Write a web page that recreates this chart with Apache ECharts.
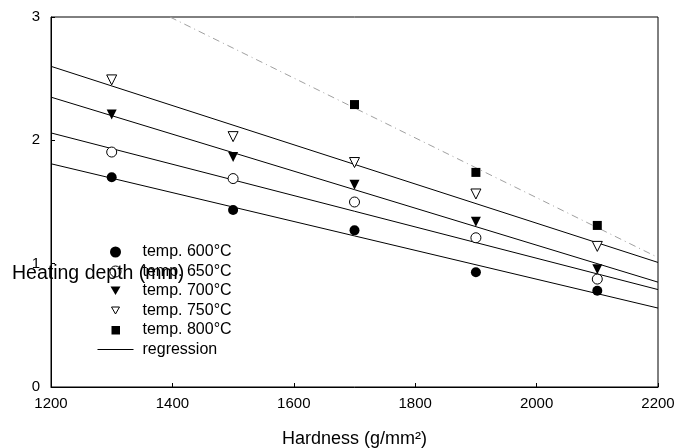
<!DOCTYPE html>
<html>
<head>
<meta charset="utf-8">
<script src="https://cdn.jsdelivr.net/npm/echarts@6/dist/echarts.min.js"></script>
<style>
  html, body { margin: 0; padding: 0; background: #fff; }
  #chart { width: 678px; height: 448px; }
</style>
</head>
<body>
<div id="chart"></div>
<script>
// hardness values (g/mm2) where the samples were measured
const hardness = [1300, 1500, 1700, 1900, 2100];
const hardness800 = [1700, 1900, 2100];

// heating depth (mm) per temperature
const depth600 = [1.70, 1.435, 1.27, 0.93, 0.78];
const depth650 = [1.905, 1.69, 1.50, 1.21, 0.875];
const depth700 = [2.21, 1.865, 1.64, 1.34, 0.955];
const depth750 = [2.49, 2.03, 1.82, 1.565, 1.14];
const depth800 = [2.29, 1.74, 1.31];

// regression lines, read at their end points
const regX = [1200, 2200];
const reg600 = [1.81, 0.64];
const reg650 = [2.06, 0.79];
const reg700 = [2.35, 0.85];
const reg750 = [2.60, 1.01];
const reg800X = [1396, 2200];
const reg800 = [3.0, 1.05];

const xTicks = [1200, 1400, 1600, 1800, 2000, 2200];
const yTicks = [0, 1, 2, 3];

const font = "'Liberation Sans', Arial, sans-serif";

const pairs = (xs, ys) => xs.map((x, i) => [x, ys[i]]);

// legend icons are drawn in a 36x11 box, the M points keep that box
const box = 'path://M0,0 M36,11 ';
const icons = {
  triDown: box + 'M13,1 L23,1 L18,9.5 Z',
  triDownHollow: box + 'M14,2 L22,2 L18,9 Z',
  square: box + 'M14,1.5 L22.5,1.5 L22.5,10 L14,10 Z',
  line: box + 'M0,5 L36,5 L36,6 L0,6 Z'
};

const chart = echarts.init(document.getElementById('chart'));

const scatter = (name, xs, ys, symbol, size, hollow, rotate) => ({
  name: name,
  type: 'scatter',
  data: pairs(xs, ys),
  symbol: symbol,
  symbolSize: size,
  symbolRotate: rotate || 0,
  itemStyle: hollow
    ? { color: '#fff', borderColor: '#000', borderWidth: 1, opacity: 1 }
    : { color: '#000', opacity: 1 },
  z: 5
});

const regLine = (name, xs, ys, style) => ({
  name: name,
  type: 'line',
  data: pairs(xs, ys),
  showSymbol: false,
  symbol: 'none',
  itemStyle: { color: style.color },
  lineStyle: style,
  silent: true,
  z: 3
});

const solid = { color: '#000', width: 1 };
const hollowStyle = { color: '#fff', borderColor: '#000', borderWidth: 1, opacity: 1 };

chart.setOption({
  animation: false,
  grid: {
    left: 51, right: 20, top: 17, bottom: 61,
    outerBoundsMode: 'none',
    show: true, borderColor: '#000', borderWidth: 1
  },
  title: {
    text: 'Heating depth (mm)',
    left: 7, top: 259,
    textStyle: { fontFamily: font, fontSize: 19.5, fontWeight: 'normal', color: '#000' }
  },
  legend: {
    orient: 'vertical',
    left: 92, top: 239,
    itemWidth: 36, itemHeight: 11, itemGap: 3.5,
    data: [
      { name: 'temp. 600°C', icon: 'circle', itemStyle: { color: '#000', opacity: 1 } },
      { name: 'temp. 650°C', icon: 'circle', itemStyle: hollowStyle },
      { name: 'temp. 700°C', icon: icons.triDown, itemStyle: { color: '#000', opacity: 1 } },
      { name: 'temp. 750°C', icon: icons.triDownHollow, itemStyle: hollowStyle },
      { name: 'temp. 800°C', icon: icons.square, itemStyle: { color: '#000', opacity: 1 } },
      { name: 'regression', icon: icons.line, itemStyle: { color: '#000', opacity: 1 } }
    ],
    textStyle: { fontFamily: font, fontSize: 16, lineHeight: 15.5, color: '#000', padding: [0, 0, 0, 4] }
  },
  xAxis: {
    type: 'value',
    min: 1200, max: 2200, interval: 200,
    name: 'Hardness (g/mm\u00b2)',
    nameLocation: 'middle', nameGap: 43,
    nameTextStyle: { fontFamily: font, fontSize: 18, color: '#000' },
    axisLine: { lineStyle: { color: '#000', width: 1 } },
    axisTick: { inside: true, length: 4, lineStyle: { color: '#000' } },
    axisLabel: { fontFamily: font, fontSize: 15, color: '#000', margin: 9,
      formatter: v => xTicks.includes(v) ? String(v) : '' },
    splitLine: { show: false }
  },
  yAxis: {
    type: 'value',
    min: 0, max: 3, interval: 1,
    axisLine: { show: true, lineStyle: { color: '#000', width: 1 } },
    axisTick: { show: true, inside: true, length: 4, lineStyle: { color: '#000' } },
    axisLabel: { fontFamily: font, fontSize: 15, color: '#000', margin: 11,
      formatter: v => yTicks.includes(v) ? String(v) : '' },
    splitLine: { show: false }
  },
  series: [
    scatter('temp. 600°C', hardness, depth600, 'circle', 10, false),
    scatter('temp. 650°C', hardness, depth650, 'circle', 10, true),
    scatter('temp. 700°C', hardness, depth700, 'triangle', 10, false, 180),
    scatter('temp. 750°C', hardness, depth750, 'triangle', 10, true, 180),
    scatter('temp. 800°C', hardness800, depth800, 'rect', 9, false),
    regLine('regression', regX, reg600, solid),
    regLine('regression', regX, reg650, solid),
    regLine('regression', regX, reg700, solid),
    regLine('regression', regX, reg750, solid),
    regLine('regression 800', reg800X, reg800, { color: '#a0a0a0', width: 1, type: [7, 4, 1, 4] })
  ]
});
</script>
</body>
</html>
